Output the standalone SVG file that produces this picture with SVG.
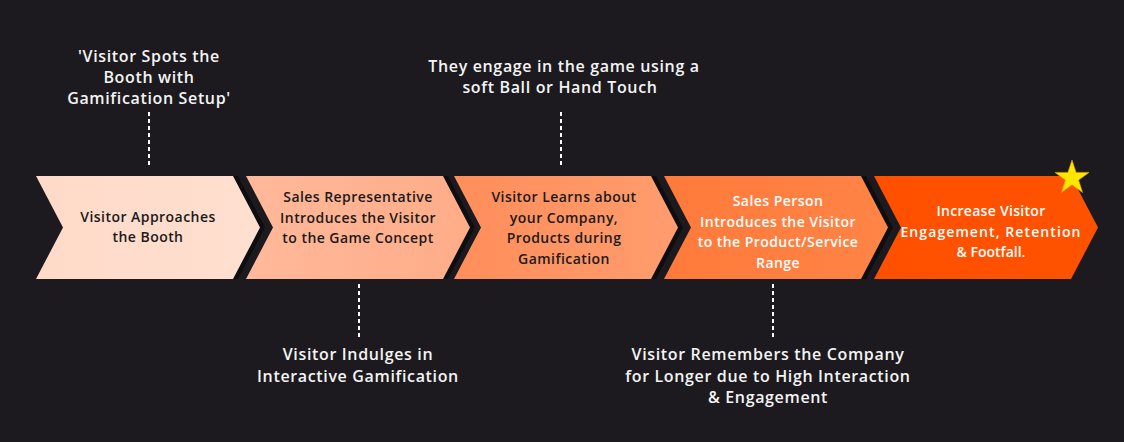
<svg xmlns="http://www.w3.org/2000/svg" width="1124" height="442" viewBox="0 0 1124 442">
  <defs>
    <linearGradient id="g1" x1="0" y1="0" x2="1" y2="0"><stop offset="0" stop-color="#FFDAC8"/><stop offset="1" stop-color="#FFDFD0"/></linearGradient>
    <linearGradient id="g2" x1="0" y1="0" x2="1" y2="0"><stop offset="0" stop-color="#FFB99A"/><stop offset="1" stop-color="#FFAC88"/></linearGradient>
    <linearGradient id="g3" x1="0" y1="0" x2="1" y2="0"><stop offset="0" stop-color="#FF8E5A"/><stop offset="1" stop-color="#FF9C6E"/></linearGradient>
    <linearGradient id="g4" x1="0" y1="0" x2="1" y2="0"><stop offset="0" stop-color="#FF7A3A"/><stop offset="1" stop-color="#FF8446"/></linearGradient>
    <linearGradient id="g5" x1="0" y1="0" x2="1" y2="0"><stop offset="0" stop-color="#FF5000"/><stop offset="1" stop-color="#FF5200"/></linearGradient>
    <polygon id="chev" points="0,176 197,176 224,227.5 197,279 0,279 27,227.5"/>
  </defs>
  <style>
    .lbl{font-family:"Open Sans","Liberation Sans",sans-serif;font-weight:600;font-size:16px;letter-spacing:0.65px;fill:#f4f4f4;text-anchor:middle}
    .ct{font-family:"Open Sans","Liberation Sans",sans-serif;font-weight:600;font-size:14px;letter-spacing:0.45px;text-anchor:middle}
    .dk{fill:#1a1a1a}
    .wt{fill:#ffffff}
    .dot{stroke:#ffffff;stroke-width:2;stroke-dasharray:4 3;fill:none}
    .shadow{fill:#0e0d10}
  </style>
  <rect width="1124" height="442" fill="#1c1a1e"/>

  <g id="connectors">
    <line class="dot" x1="149" y1="112" x2="149" y2="168"/>
    <line class="dot" x1="561" y1="112" x2="561" y2="168"/>
    <line class="dot" x1="359" y1="284" x2="359" y2="340"/>
    <line class="dot" x1="773" y1="284" x2="773" y2="340"/>
  </g>

  <g id="step1">
    <use href="#chev" class="shadow" transform="translate(41,0)"/>
    <use href="#chev" fill="url(#g1)" transform="translate(36,0)"/>
    <text class="ct dk"><tspan x="148" y="222">Visitor Approaches</tspan><tspan x="148" y="242">the Booth</tspan></text>
  </g>
  <g id="step2">
    <use href="#chev" class="shadow" transform="translate(251,0)"/>
    <use href="#chev" fill="url(#g2)" transform="translate(246,0)"/>
    <text class="ct dk"><tspan x="358" y="202">Sales Representative</tspan><tspan x="358" y="222.5">Introduces the Visitor</tspan><tspan x="358" y="243">to the Game Concept</tspan></text>
  </g>
  <g id="step3">
    <use href="#chev" class="shadow" transform="translate(459,0)"/>
    <use href="#chev" fill="url(#g3)" transform="translate(454,0)"/>
    <text class="ct dk"><tspan x="564" y="202">Visitor Learns about</tspan><tspan x="564" y="222.5">your Company,</tspan><tspan x="564" y="243">Products during</tspan><tspan x="564" y="263.5">Gamification</tspan></text>
  </g>
  <g id="step4">
    <use href="#chev" class="shadow" transform="translate(669,0)"/>
    <use href="#chev" fill="url(#g4)" transform="translate(664,0)"/>
    <text class="ct wt"><tspan x="778" y="206">Sales Person</tspan><tspan x="778" y="226.5">Introduces the Visitor</tspan><tspan x="778" y="247">to the Product/Service</tspan><tspan x="778" y="267.5">Range</tspan></text>
  </g>
  <g id="step5">
    <use href="#chev" fill="url(#g5)" transform="translate(874,0)"/>
    <text class="ct wt"><tspan x="991" y="216" style="letter-spacing:0.3px">Increase Visitor</tspan><tspan x="991" y="236.5" style="letter-spacing:1.1px">Engagement, Retention</tspan><tspan x="991" y="257" style="letter-spacing:0px">&amp; Footfall.</tspan></text>
  </g>
  <g id="star">
    <polygon points="1072,160 1076.1,172.4 1089.1,172.4 1078.6,180.1 1082.6,192.5 1072,184.8 1061.4,192.5 1065.4,180.1 1054.9,172.4 1067.9,172.4" fill="#FFE600" stroke="#E0A000" stroke-width="0.6" stroke-linejoin="miter"/>
  </g>

  <g id="label-top1">
    <text class="lbl"><tspan x="149" y="62">'Visitor Spots the</tspan><tspan x="149" y="83">Booth with</tspan><tspan x="149" y="104">Gamification Setup'</tspan></text>
  </g>
  <g id="label-top2">
    <text class="lbl"><tspan x="564" y="72">They engage in the game using a</tspan><tspan x="560" y="93">soft Ball or Hand Touch</tspan></text>
  </g>
  <g id="label-bot1">
    <text class="lbl"><tspan x="358" y="360">Visitor Indulges in</tspan><tspan x="358" y="382">Interactive Gamification</tspan></text>
  </g>
  <g id="label-bot2">
    <text class="lbl"><tspan x="768" y="360">Visitor Remembers the Company</tspan><tspan x="768" y="382">for Longer due to High Interaction</tspan><tspan x="768" y="403">&amp; Engagement</tspan></text>
  </g>
</svg>
